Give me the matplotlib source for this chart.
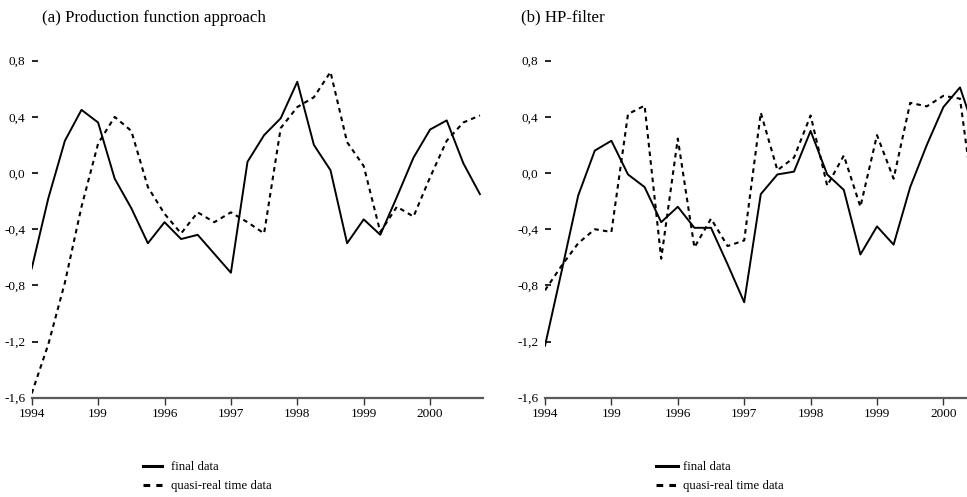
import numpy as np
import matplotlib
matplotlib.use('Agg')
import matplotlib.pyplot as plt

plt.rcParams['font.family'] = ['Liberation Serif', 'DejaVu Serif']

# quarterly data, 1994Q1 onwards
final_a = [-0.68, -0.18, 0.23, 0.45, 0.36, -0.04, -0.25, -0.50, -0.35, -0.47,
           -0.44, -0.575, -0.71, 0.08, 0.27, 0.39, 0.65, 0.20, 0.02, -0.50,
           -0.33, -0.44, -0.17, 0.11, 0.31, 0.375, 0.07, -0.15]
quasi_a = [-1.57, -1.22, -0.78, -0.24, 0.21, 0.40, 0.30, -0.10, -0.29, -0.43,
           -0.28, -0.35, -0.28, -0.35, -0.43, 0.32, 0.47, 0.54, 0.72, 0.22,
           0.05, -0.42, -0.24, -0.31, -0.03, 0.23, 0.36, 0.41]
final_b = [-1.23, -0.70, -0.16, 0.16, 0.23, -0.01, -0.10, -0.35, -0.24, -0.39,
           -0.39, -0.65, -0.92, -0.15, -0.01, 0.01, 0.30, -0.01, -0.12, -0.58,
           -0.38, -0.51, -0.10, 0.20, 0.47, 0.61, 0.26]
quasi_b = [-0.835, -0.66, -0.50, -0.40, -0.42, 0.42, 0.48, -0.61, 0.245, -0.53,
           -0.325, -0.52, -0.48, 0.43, 0.02, 0.11, 0.41, -0.09, 0.125, -0.24,
           0.27, -0.04, 0.50, 0.475, 0.55, 0.53, -0.35]

years = [1994, 1995, 1996, 1997, 1998, 1999, 2000]
year_labels = ['1994', '199', '1996', '1997', '1998', '1999', '2000']
yticks = [0.8, 0.4, 0.0, -0.4, -0.8, -1.2, -1.6]
ytick_labels = ['0,8', '0,4', '0,0', '-0,4', '-0,8', '-1,2', '-1,6']

W, H = 967, 497
fig = plt.figure(figsize=(W / 100, H / 100), dpi=100)

ppy = 66.4          # pixels per year
y_bot, y_top = 397.7, 53.7


def make_axes(x0, xmax):
    w = (xmax - 1994) * ppy
    ax = fig.add_axes([x0 / W, (H - y_bot) / H, w / W, (y_bot - y_top) / H])
    ax.set_xlim(1994, xmax)
    ax.set_ylim(-1.6, 0.85)
    for s in ['top', 'right', 'left']:
        ax.spines[s].set_visible(False)
    ax.spines['bottom'].set_color('#5a5a5a')
    ax.spines['bottom'].set_linewidth(1.6)
    ax.set_xticks(years)
    ax.set_xticklabels(year_labels)
    ax.set_yticks(yticks)
    ax.set_yticklabels(ytick_labels)
    ax.tick_params(axis='y', direction='in', length=4.5, width=1.2, pad=4.6,
                   labelsize=9.5, color='black')
    ax.tick_params(axis='x', direction='out', length=5, width=1.0, pad=2.2,
                   labelsize=9.5, color='#333333')
    return ax


ax1 = make_axes(31.7, 2000.8)
ax2 = make_axes(545.0, 2000.355)

x_a = 1994 + np.arange(len(final_a)) / 4
x_b = 1994 + np.arange(len(final_b)) / 4

dash = (0, (2.2, 2.0))
ax1.plot(x_a, final_a, color='black', lw=1.4, label='final data')
ax1.plot(x_a, quasi_a, color='black', lw=1.5, linestyle=dash,
         label='quasi-real time data')
ax2.plot(x_b, final_b, color='black', lw=1.4, label='final data')
ax2.plot(x_b, quasi_b, color='black', lw=1.5, linestyle=dash,
         label='quasi-real time data')

fig.text(42 / W, 1 - 17.5 / H, '(a) Production function approach',
         fontsize=12.2, va='center', ha='left')
fig.text(521 / W, 1 - 17.5 / H, '(b) HP-filter',
         fontsize=12.2, va='center', ha='left')

for ax, x0, hl, pad in [(ax1, 143, 1.5, 0.7), (ax2, 656, 1.7, 0.4)]:
    leg = ax.legend(loc='center left', bbox_to_anchor=(x0 / W, 1 - 476.5 / H),
                    bbox_transform=fig.transFigure, frameon=False, fontsize=9.2,
                    borderpad=0, borderaxespad=0, handlelength=hl,
                    handletextpad=pad, labelspacing=0.55)
    for line in leg.get_lines():
        line.set_linewidth(2.2)

plt.savefig('out.png', dpi=100)
